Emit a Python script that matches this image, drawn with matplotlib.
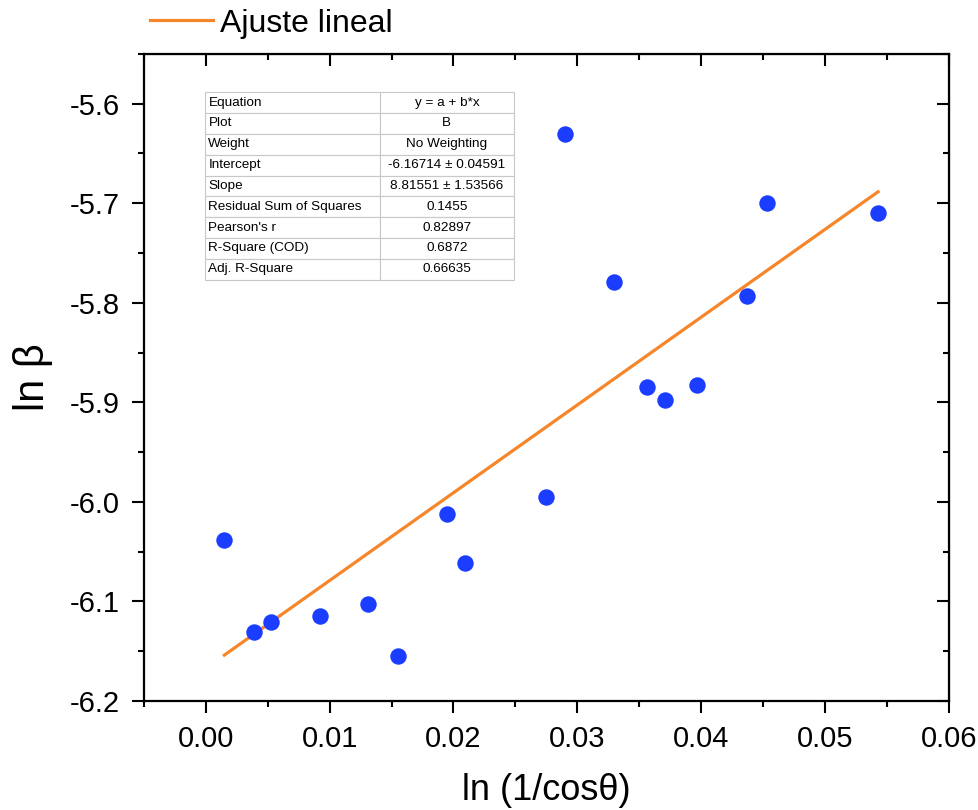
import matplotlib
matplotlib.use("Agg")
import matplotlib.pyplot as plt
import numpy as np

# Datos
x = np.array([0.0015, 0.0039, 0.0053, 0.0092, 0.0131, 0.0155, 0.0195, 0.0209, 0.0275,
              0.0290, 0.0330, 0.0356, 0.0371, 0.0397, 0.0437, 0.0453, 0.0543])
y = np.array([-6.038, -6.131, -6.121, -6.115, -6.103, -6.155, -6.012, -6.061, -5.995,
              -5.630, -5.779, -5.885, -5.898, -5.883, -5.793, -5.700, -5.710])

intercept = -6.16714
slope = 8.81551

table_names = ["Equation", "Plot", "Weight", "Intercept", "Slope",
               "Residual Sum of Squares", "Pearson's r", "R-Square (COD)", "Adj. R-Square"]
table_values = ["y = a + b*x", "B", "No Weighting", "-6.16714 ± 0.04591", "8.81551 ± 1.53566",
                "0.1455", "0.82897", "0.6872", "0.66635"]

xticks = [0.00, 0.01, 0.02, 0.03, 0.04, 0.05, 0.06]
yticks = [-6.2, -6.1, -6.0, -5.9, -5.8, -5.7, -5.6]

plt.rcParams['font.family'] = ['Liberation Sans', 'DejaVu Sans']

fig = plt.figure(figsize=(9.79, 8.10), dpi=100)
ax = fig.add_axes([0.147, 0.1346, 0.822, 0.7988])

ax.scatter(x, y, s=140, color='#1a3dff', zorder=3, linewidths=0)
x_fit = np.array([x.min(), x.max()])
ax.plot(x_fit, intercept + slope * x_fit, color='#f7862a', lw=2.3, label='Ajuste lineal', zorder=2)

ax.set_xlim(-0.005, 0.06)
ax.set_ylim(-6.2, -5.55)
ax.set_xticks(xticks)
ax.set_xticklabels([f"{v:.2f}" for v in xticks])
ax.set_yticks(yticks)
ax.set_yticklabels([f"{v:.1f}" for v in yticks])
ax.set_xticks(np.arange(-0.005, 0.0601, 0.01), minor=True)
ax.set_yticks(np.arange(-6.15, -5.55, 0.1), minor=True)

for s in ax.spines.values():
    s.set_linewidth(1.6)
ax.tick_params(which='major', length=8.5, width=1.5, labelsize=21, pad=9)
ax.tick_params(which='minor', length=4.5, width=1.5)
ax.tick_params(axis='x', which='both', direction='out')
ax.tick_params(axis='y', which='both', direction='out')

# ticks interiores arriba y derecha
top = ax.secondary_xaxis('top')
top.set_xticks(xticks)
top.set_xticks(np.arange(-0.005, 0.0601, 0.01), minor=True)
top.tick_params(which='major', direction='in', length=8.5, width=1.5, labeltop=False)
top.tick_params(which='minor', direction='in', length=4.5, width=1.5)
right = ax.secondary_yaxis('right')
right.set_yticks(yticks)
right.set_yticks(np.arange(-6.15, -5.55, 0.1), minor=True)
right.tick_params(which='major', direction='in', length=8.5, width=1.5, labelright=False)
right.tick_params(which='minor', direction='in', length=4.5, width=1.5)

ax.set_xlabel("ln (1/cosθ)", fontsize=26, labelpad=14)
ax.set_ylabel("ln β", fontsize=30, labelpad=12)

ax.legend(loc='center left', bbox_to_anchor=(0.007, 1.047), frameon=False, fontsize=23,
          handlelength=2.0, handletextpad=0.2, borderaxespad=0, borderpad=0)

# Tabla
cells = [[n, v] for n, v in zip(table_names, table_values)]
tab = ax.table(cellText=cells, bbox=[0.0758, 0.651, 0.384, 0.29], colWidths=[0.566, 0.434])
tab.auto_set_font_size(False)
tab.set_fontsize(9.7)
for (r, c), cell in tab.get_celld().items():
    cell.set_edgecolor('#c8c8c8')
    cell.set_linewidth(0.8)
    cell.set_text_props(ha='left' if c == 0 else 'center')
    if c == 0:
        cell.PAD = 0.02
tab.set_zorder(4)

fig.savefig("out.png", dpi=100)
